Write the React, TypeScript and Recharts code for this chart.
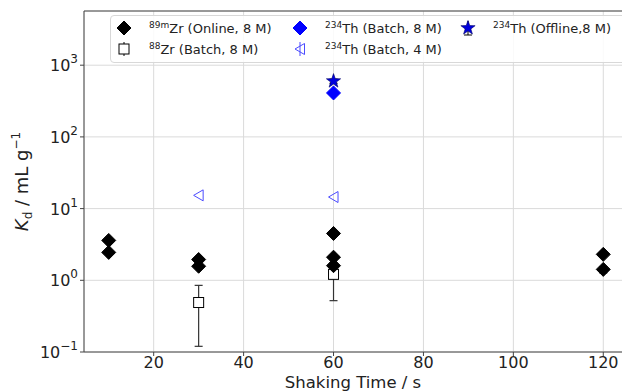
import React from "react";
import { ScatterChart, Scatter, XAxis, YAxis, CartesianGrid, ErrorBar, ReferenceLine } from "recharts";

// Kd vs shaking time, log y-axis, matplotlib-like look.
const timeTicks = [20, 40, 60, 80, 100, 120];
const kdTicks = [0.1, 1, 10, 100, 1000];
const kdMinorTicks = [
  0.2, 0.3, 0.4, 0.5, 0.6, 0.7, 0.8, 0.9,
  2, 3, 4, 5, 6, 7, 8, 9,
  20, 30, 40, 50, 60, 70, 80, 90,
  200, 300, 400, 500, 600, 700, 800, 900,
  2000, 3000, 4000, 5000,
];
const timeDomain = [4.5, 125.5];
const kdDomain = [0.1, 5700];

const zrOnlineTime = [10, 10, 30, 30, 60, 60, 60, 120, 120];
const zrOnlineKd = [3.6, 2.45, 1.95, 1.57, 4.5, 2.1, 1.6, 2.3, 1.42];
const zrOnlineErr = [null, null, null, null, null, null, null, null, [0.15, 0.12]];

const zrBatchTime = [30, 60];
const zrBatchKd = [0.49, 1.21];
const zrBatchErr = [[0.37, 0.36], [0.69, 0.55]];

const thBatch8Time = [60];
const thBatch8Kd = [410];

const thBatch4Time = [30, 60];
const thBatch4Kd = [15.3, 14.5];

const thOfflineTime = [60];
const thOfflineKd = [600];
const thOfflineErr = [[40, 40]];

const toRows = (xs: number[], ys: number[], errs?: any[]) =>
  xs.map((x, i) => ({ t: x, kd: ys[i], err: errs ? errs[i] ?? undefined : undefined }));

const zrOnline = toRows(zrOnlineTime, zrOnlineKd, zrOnlineErr);
const zrBatch = toRows(zrBatchTime, zrBatchKd, zrBatchErr);
const thBatch8 = toRows(thBatch8Time, thBatch8Kd);
const thBatch4 = toRows(thBatch4Time, thBatch4Kd);
const thOffline = toRows(thOfflineTime, thOfflineKd, thOfflineErr);

const FONT = "'DejaVu Sans', sans-serif";
const BLUE = "#0000ff";
const LIGHT_BLUE = "#4b4bff";

function Diamond({ cx, cy, fill, r = 7 }: any) {
  if (cx == null || cy == null) return null;
  return (
    <polygon
      points={`${cx},${cy - r} ${cx + r},${cy} ${cx},${cy + r} ${cx - r},${cy}`}
      fill={fill}
      stroke={fill}
      strokeWidth={1}
    />
  );
}

function Square({ cx, cy }: any) {
  if (cx == null || cy == null) return null;
  return <rect x={cx - 5} y={cy - 5} width={10} height={10} fill="#fff" stroke="#000" strokeWidth={1} />;
}

function TriLeft({ cx, cy }: any) {
  if (cx == null || cy == null) return null;
  return (
    <polygon
      points={`${cx - 5},${cy} ${cx + 4.5},${cy - 5.5} ${cx + 4.5},${cy + 5.5}`}
      fill="none"
      stroke={LIGHT_BLUE}
      strokeWidth={1}
    />
  );
}

function Star({ cx, cy }: any) {
  if (cx == null || cy == null) return null;
  const pts: string[] = [];
  for (let i = 0; i < 10; i++) {
    const r = i % 2 === 0 ? 7.5 : 3;
    const a = -Math.PI / 2 + (i * Math.PI) / 5;
    pts.push(`${cx + r * Math.cos(a)},${cy + r * Math.sin(a)}`);
  }
  return <polygon points={pts.join(" ")} fill="#0000dd" stroke="#000066" strokeWidth={0.6} />;
}

function XTick({ x, y, payload }: any) {
  return (
    <text x={x} y={y + 10} textAnchor="middle" fontSize={16} fontFamily={FONT} fill="#222">
      {payload.value}
    </text>
  );
}

function YTick({ x, y, payload }: any) {
  const exp = Math.round(Math.log10(payload.value));
  const label = exp < 0 ? `\u2212${-exp}` : `${exp}`;
  return (
    <text x={x} y={y + 6} textAnchor="end" fontFamily={FONT} fill="#222">
      <tspan fontSize={16}>10</tspan>
      <tspan fontSize={12} dy={-8}>{label}</tspan>
    </text>
  );
}

function XLabel({ viewBox }: any) {
  const { x, width } = viewBox;
  return (
    <text x={x + width / 2 - 3} y={388} textAnchor="middle" fontSize={16.5} fontFamily={FONT} fill="#222">
      Shaking Time / s
    </text>
  );
}

function YLabel({ viewBox }: any) {
  const { y, height } = viewBox;
  const cx = 28;
  const cy = y + height / 2;
  return (
    <text
      x={cx}
      y={cy}
      transform={`rotate(-90, ${cx}, ${cy})`}
      textAnchor="middle"
      fontSize={18}
      fontFamily={FONT}
      fill="#222"
    >
      <tspan fontStyle="italic">K</tspan>
      <tspan fontSize={12} dy={4}>d</tspan>
      <tspan dy={-4}> / mL g</tspan>
      <tspan fontSize={12} dy={-8}>{"\u22121"}</tspan>
    </text>
  );
}

const legendRows = [
  [
    { label: "Zr (Online, 8 M)", sup: "89m", icon: "diamond", color: "#000" },
    { label: "Th (Batch, 8 M)", sup: "234", icon: "diamond", color: BLUE },
    { label: "Th (Offline,8 M)", sup: "234", icon: "star", color: BLUE },
  ],
  [
    { label: "Zr (Batch, 8 M)", sup: "88", icon: "square", color: "#000" },
    { label: "Th (Batch, 4 M)", sup: "234", icon: "tri", color: LIGHT_BLUE },
  ],
];
const legendColX = [0, 176, 344];

function LegendIcon({ icon, color }: any) {
  return (
    <svg width={18} height={18} style={{ display: "block" }}>
      {icon === "diamond" && <Diamond cx={9} cy={9} fill={color} />}
      {icon === "square" && (
        <>
          <line x1={9} y1={2} x2={9} y2={16} stroke="#000" strokeWidth={1} />
          <Square cx={9} cy={9} />
        </>
      )}
      {icon === "tri" && (
        <>
          <line x1={9} y1={2} x2={9} y2={16} stroke={LIGHT_BLUE} strokeWidth={1} />
          <TriLeft cx={9} cy={9} />
        </>
      )}
      {icon === "star" && (
        <>
          <line x1={9} y1={2} x2={9} y2={16} stroke="#000" strokeWidth={1} />
          <line x1={5} y1={16} x2={13} y2={16} stroke="#000" strokeWidth={1} />
          <Star cx={9} cy={9} />
        </>
      )}
    </svg>
  );
}

function LegendBox() {
  return (
    <div
      style={{
        position: "absolute",
        left: 110,
        top: 15,
        width: 520,
        height: 46,
        background: "rgba(255,255,255,0.85)",
        border: "1px solid #d8d8d8",
        borderRadius: 4,
        fontFamily: FONT,
        fontSize: 13,
        color: "#222",
      }}
    >
      {legendRows.map((row, r) =>
        row.map((item, c) => (
          <div
            key={`${r}-${c}`}
            style={{
              position: "absolute",
              left: 4 + legendColX[c],
              top: 3 + r * 21,
              display: "flex",
              alignItems: "center",
              whiteSpace: "nowrap",
            }}
          >
            <LegendIcon icon={item.icon} color={item.color} />
            <span style={{ marginLeft: 16 }}>
              <sup style={{ fontSize: 9 }}>{item.sup}</sup>
              {item.label}
            </span>
          </div>
        ))
      )}
    </div>
  );
}

export default function App() {
  return (
    <div
      style={{
        position: "absolute",
        left: 0,
        top: 0,
        width: 622,
        height: 392,
        overflow: "hidden",
        background: "#fff",
      }}
    >
      <ScatterChart width={628} height={392} margin={{ top: 11, right: 0, bottom: 0, left: 0 }}>
        <CartesianGrid stroke="#dadada" strokeWidth={1} />
        <XAxis
          type="number"
          dataKey="t"
          domain={timeDomain}
          ticks={timeTicks}
          allowDataOverflow
          height={40}
          tickSize={4}
          tick={<XTick />}
          axisLine={{ stroke: "#444" }}
          tickLine={{ stroke: "#444" }}
          label={<XLabel />}
        />
        <YAxis
          yAxisId="minor"
          type="number"
          dataKey="kd"
          scale="log"
          domain={kdDomain}
          ticks={kdMinorTicks}
          interval={0}
          allowDataOverflow
          width={0}
          tick={false}
          tickSize={2}
          axisLine={false}
          tickLine={{ stroke: "#444" }}
        />
        <YAxis
          type="number"
          dataKey="kd"
          scale="log"
          domain={kdDomain}
          ticks={kdTicks}
          interval={0}
          allowDataOverflow
          width={84}
          tickSize={4}
          tickMargin={2}
          tick={<YTick />}
          axisLine={{ stroke: "#444" }}
          tickLine={{ stroke: "#444" }}
          label={<YLabel />}
        />
        <ReferenceLine y={kdDomain[1]} stroke="#444" strokeWidth={1} />
        <Scatter data={zrBatch} shape={<Square />} isAnimationActive={false}>
          <ErrorBar dataKey="err" direction="y" width={4} stroke="#333" strokeWidth={1.2} />
        </Scatter>
        <Scatter data={thBatch4} shape={<TriLeft />} isAnimationActive={false} />
        <Scatter data={zrOnline} shape={<Diamond fill="#000" />} isAnimationActive={false}>
          <ErrorBar dataKey="err" direction="y" width={4} stroke="#000" strokeWidth={1.2} />
        </Scatter>
        <Scatter data={thBatch8} shape={<Diamond fill={BLUE} />} isAnimationActive={false} />
        <Scatter data={thOffline} shape={<Star />} isAnimationActive={false}>
          <ErrorBar dataKey="err" direction="y" width={4} stroke="#000" strokeWidth={1} />
        </Scatter>
      </ScatterChart>
      <LegendBox />
    </div>
  );
}
